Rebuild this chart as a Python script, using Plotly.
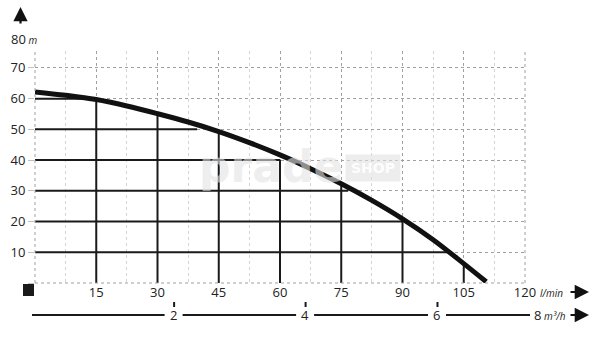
import plotly.graph_objects as go

# ---- data ----
flow_lmin = [0, 7.5, 15, 22.5, 30, 37.5, 45, 52.5, 60, 67.5, 75, 82.5, 90, 97.5, 105, 110.5]
head_m = [62.2, 61.1, 59.7, 57.6, 55.1, 52.4, 49.3, 45.7, 41.7, 37.2, 32.3, 26.9, 20.9, 14.1, 6.3, 0.4]

x_ticks = [0, 15, 30, 45, 60, 75, 90, 105, 120]
x_labels = ["", "15", "30", "45", "60", "75", "90", "105", "120"]
x_minor = [7.5, 22.5, 37.5, 52.5, 67.5, 82.5, 97.5, 112.5]
y_ticks = [0, 10, 20, 30, 40, 50, 60, 70]
y_labels = ["", "10", "20", "30", "40", "50", "60", "70"]

h_levels = [10, 20, 30, 40, 50, 60]
h_line_end = [101.0, 90.0, 76.7, 60.0, 39.7, 13.0]
v_flows = [15, 30, 45, 60, 75, 90, 105]
v_line_top = [59.0, 54.6, 49.0, 40.0, 31.6, 20.7, 5.8]

m3h_values = [2, 4, 6]
m3h_at_lmin = [33.7, 65.9, 98.2]

# ---- geometry helpers (plot area 35..525 px, 51..283 px) ----
L, R, T, B = 35, 525, 51, 283
W, H = R - L, B - T


def px_x(p):
    return (p - L) / W


def px_y(p):
    return (B - p) / H


fig = go.Figure()

# horizontal reference lines
hx, hy = [], []
for lev, end in zip(h_levels, h_line_end):
    hx += [0, end, None]
    hy += [lev, lev, None]
fig.add_trace(go.Scatter(x=hx, y=hy, mode="lines",
                         line=dict(color="#1a1a1a", width=2), hoverinfo="skip"))

# vertical reference lines
vx, vy = [], []
for q, top in zip(v_flows, v_line_top):
    vx += [q, q, None]
    vy += [0, top, None]
fig.add_trace(go.Scatter(x=vx, y=vy, mode="lines",
                         line=dict(color="#1a1a1a", width=2), hoverinfo="skip"))

# pump curve
fig.add_trace(go.Scatter(x=flow_lmin, y=head_m, mode="lines",
                         line=dict(color="#111111", width=5, shape="spline", smoothing=1.0),
                         hoverinfo="skip"))

shapes = []
dot_major = dict(color="#a0a0a0", width=1, dash="dot")
# edge dotted lines
shapes.append(dict(type="line", xref="paper", yref="paper", x0=0, x1=0, y0=0, y1=1, line=dot_major))
shapes.append(dict(type="line", xref="paper", yref="paper", x0=1, x1=1, y0=0, y1=1, line=dot_major))
shapes.append(dict(type="line", xref="paper", yref="paper", x0=0, x1=1, y0=0, y1=0, line=dot_major))

# black square at origin
shapes.append(dict(type="rect", xref="paper", yref="paper",
                   x0=px_x(23), x1=px_x(34), y0=px_y(296), y1=px_y(284),
                   fillcolor="#1a1a1a", line=dict(width=0)))

# second scale line (m3/h) with gaps around labels
row2_y = px_y(315)
gap_l, gap_r = 8 / W, 10 / W
starts = [px_x(32)] + [q / 120 + gap_r for q in m3h_at_lmin]
ends = [q / 120 - gap_l for q in m3h_at_lmin] + [px_x(530)]
for s, e in zip(starts, ends):
    shapes.append(dict(type="line", xref="paper", yref="paper", x0=s, x1=e,
                       y0=row2_y, y1=row2_y, line=dict(color="#1a1a1a", width=2)))
for q in m3h_at_lmin:
    shapes.append(dict(type="line", xref="paper", yref="paper", x0=q / 120 + 1.5 / W,
                       x1=q / 120 + 1.5 / W, y0=px_y(307), y1=px_y(302),
                       line=dict(color="#1a1a1a", width=2)))

annotations = []
font_main = dict(family="Open Sans, Noto Sans, sans-serif", size=13, color="#222")
for v, q in zip(m3h_values, m3h_at_lmin):
    annotations.append(dict(text=str(v), xref="paper", yref="paper", x=q / 120 + 1 / W, y=row2_y,
                            xanchor="center", yanchor="middle", showarrow=False, font=font_main))
annotations.append(dict(text="8", xref="paper", yref="paper", x=px_x(532), y=row2_y,
                        xanchor="left", yanchor="middle", showarrow=False, font=font_main))
annotations.append(dict(text="<i>m³/h</i>", xref="paper", yref="paper", x=px_x(542), y=px_y(316),
                        xanchor="left", yanchor="middle", showarrow=False,
                        font=dict(family="Open Sans, Noto Sans, sans-serif", size=10, color="#222")))
annotations.append(dict(text="<i>l/min</i>", xref="paper", yref="paper", x=px_x(538), y=px_y(293),
                        xanchor="left", yanchor="middle", showarrow=False,
                        font=dict(family="Open Sans, Noto Sans, sans-serif", size=10, color="#222")))
annotations.append(dict(text="80<span style='font-size:10px'><i> m</i></span>", xref="paper", yref="paper",
                        x=px_x(9), y=px_y(39), xanchor="left", yanchor="middle", showarrow=False,
                        font=font_main))
# arrows
for yy in (292, 315):
    annotations.append(dict(text="", xref="paper", yref="paper", x=px_x(589), y=px_y(yy),
                            ax=-20, ay=0, showarrow=True, arrowhead=2, arrowsize=1.3,
                            arrowwidth=2.2, arrowcolor="#111"))
annotations.append(dict(text="", xref="paper", yref="paper", x=px_x(20.5), y=px_y(7),
                        ax=0, ay=18, showarrow=True, arrowhead=2, arrowsize=1.3,
                        arrowwidth=2.2, arrowcolor="#111"))
# watermark
annotations.append(dict(text="<b>prade</b>", xref="paper", yref="paper", x=px_x(271), y=px_y(166),
                        xanchor="center", yanchor="middle", showarrow=False,
                        font=dict(family="DejaVu Sans, sans-serif", size=44, color="rgba(228,228,228,0.6)")))
annotations.append(dict(text="<b>SHOP</b>", xref="paper", yref="paper", x=px_x(372.5), y=px_y(167.5),
                        xanchor="center", yanchor="middle", showarrow=False, bgcolor="rgba(225,225,225,0.6)",
                        borderpad=5,
                        font=dict(family="DejaVu Sans, sans-serif", size=14, color="rgba(255,255,255,0.95)")))

fig.update_layout(
    width=600, height=337,
    margin=dict(l=L, r=600 - R, t=T, b=337 - B, pad=0),
    paper_bgcolor="white", plot_bgcolor="white",
    showlegend=False,
    font=font_main,
    shapes=shapes,
    annotations=annotations,
    xaxis=dict(range=[0, 120], tickmode="array", tickvals=x_ticks, ticktext=x_labels,
               showgrid=True, gridcolor="#a0a0a0", griddash="dot", gridwidth=1,
               minor=dict(tickmode="array", tickvals=x_minor, showgrid=True,
                          gridcolor="#d4d4d4", griddash="dot", gridwidth=1),
               zeroline=False, showline=False, ticks="", fixedrange=True,
               tickfont=font_main),
    yaxis=dict(range=[0, 75.5], tickmode="array", tickvals=y_ticks, ticktext=y_labels,
               showgrid=True, gridcolor="#a0a0a0", griddash="dot", gridwidth=1,
               zeroline=False, showline=False, ticks="outside", ticklen=6,
               tickcolor="#c0c0c0", tickwidth=1, fixedrange=True, tickfont=font_main),
)

fig.write_html("out.html", config={"displayModeBar": False})
